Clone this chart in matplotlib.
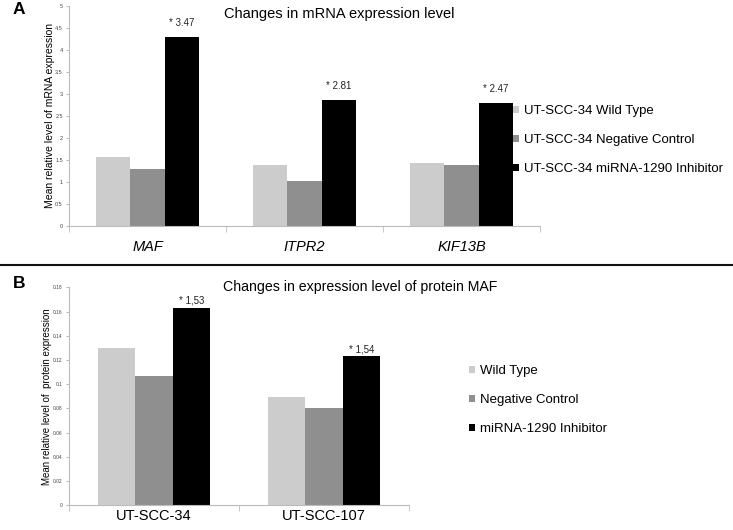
import matplotlib
matplotlib.use("Agg")
import matplotlib.pyplot as plt
from matplotlib.lines import Line2D
import numpy as np

plt.rcParams['font.family'] = ['Liberation Sans', 'DejaVu Sans']

# panel A data
genes = ['MAF', 'ITPR2', 'KIF13B']
mrna_wild = [1.57, 1.39, 1.43]
mrna_neg = [1.30, 1.02, 1.39]
mrna_inh = [4.29, 2.86, 2.79]
mrna_notes = ['* 3.47', '* 2.81', '* 2.47']
legend_a = ['UT-SCC-34 Wild Type', 'UT-SCC-34 Negative Control', 'UT-SCC-34 miRNA-1290 Inhibitor']

# panel B data
cells = ['UT-SCC-34', 'UT-SCC-107']
prot_wild = [0.130, 0.0897]
prot_neg = [0.1065, 0.080]
prot_inh = [0.1632, 0.1233]
prot_notes = ['* 1,53', '* 1,54']
legend_b = ['Wild Type', 'Negative Control', 'miRNA-1290 Inhibitor']

colors = ['#cccccc', '#8f8f8f', '#000000']
W, H = 733, 530
fig = plt.figure(figsize=(W / 100, H / 100), dpi=100)


def panel(rect, cats, series, notes, labels, ymax, step, fmt, tfs, italic, ylabel, ysize,
          ylab_x, title, tsize, title_xy, leg_xy, note_off, cat_pad):
    ax = fig.add_axes(rect)
    x = np.arange(len(cats))
    bw = 0.22
    bars = []
    for i, vals in enumerate(series):
        b = ax.bar(x + (i - 1) * bw, vals, bw, color=colors[i], label=labels[i],
                   linewidth=0)
        bars.append(b)
    for xi, v, t in zip(x, series[2], notes):
        ax.annotate(t, (xi + bw, v), xytext=(0, note_off), textcoords='offset points',
                    ha='center', va='center', fontsize=7, color='#222222')
    ax.set_xlim(-0.5, len(cats) - 0.5)
    ax.set_ylim(0, ymax)
    ticks = np.arange(0, ymax + step / 2, step)
    ax.set_yticks(ticks)
    ax.set_yticklabels([fmt(t) for t in ticks], fontsize=tfs, color='#444444')
    ax.set_xticks(x)
    ax.set_xticklabels(cats, fontsize=10.5, style='italic' if italic else 'normal')
    ax.set_xticks(np.arange(len(cats) + 1) - 0.5, minor=True)
    ax.tick_params(axis='x', which='major', length=0, pad=cat_pad)
    ax.tick_params(axis='x', which='minor', length=4, color='#bbbbbb', direction='out')
    ax.tick_params(axis='y', length=2, color='#bbbbbb', pad=2.5)
    for s in ['top', 'right']:
        ax.spines[s].set_visible(False)
    for s in ['left', 'bottom']:
        ax.spines[s].set_color('#bbbbbb')
        ax.spines[s].set_linewidth(0.8)
    ax.set_ylabel(ylabel, fontsize=ysize)
    ax.yaxis.set_label_coords((ylab_x - rect[0] * W) / (rect[2] * W), 0.5)
    fig.text(title_xy[0] / W, 1 - title_xy[1] / H, title, fontsize=tsize,
             ha='center', va='center')
    fig.legend(handles=bars, labels=labels, loc='upper left',
               bbox_to_anchor=(leg_xy[0] / W, 1 - leg_xy[1] / H), frameon=False,
               fontsize=9.5, handlelength=0.45, handleheight=0.45, handletextpad=0.35,
               labelspacing=1.3, borderpad=0, borderaxespad=0)
    return ax


panel([69 / W, 1 - 226 / H, 471 / W, 220 / H], genes, [mrna_wild, mrna_neg, mrna_inh],
      mrna_notes, legend_a, 5, 0.5, lambda t: f'{t:g}', 4, True,
      'Mean relative level of mRNA expression', 7.5, 55,
      'Changes in mRNA expression level', 10.5, (339, 14), (513, 105), 10, 10)

panel([69 / W, 1 - 505.3 / H, 340 / W, 218 / H], cells, [prot_wild, prot_neg, prot_inh],
      prot_notes, legend_b, 0.18, 0.02, lambda t: f'{t:.2f}'.rstrip('0').rstrip('.') if t else '0',
      3.5, False, 'Mean relative level of  protein expression', 7, 52,
      'Changes in expression level of protein MAF', 10.2, (360, 287), (469, 365), 5, 3)

fig.text(13 / W, 1 - 10 / H, 'A', fontsize=12.5, fontweight='black', ha='left', va='center')
fig.text(13 / W, 1 - 283 / H, 'B', fontsize=12.5, fontweight='black', ha='left', va='center')
fig.add_artist(Line2D([0, 1], [1 - 265 / H, 1 - 265 / H], color='#111111', linewidth=1.5))

fig.savefig('out.png', dpi=100)
